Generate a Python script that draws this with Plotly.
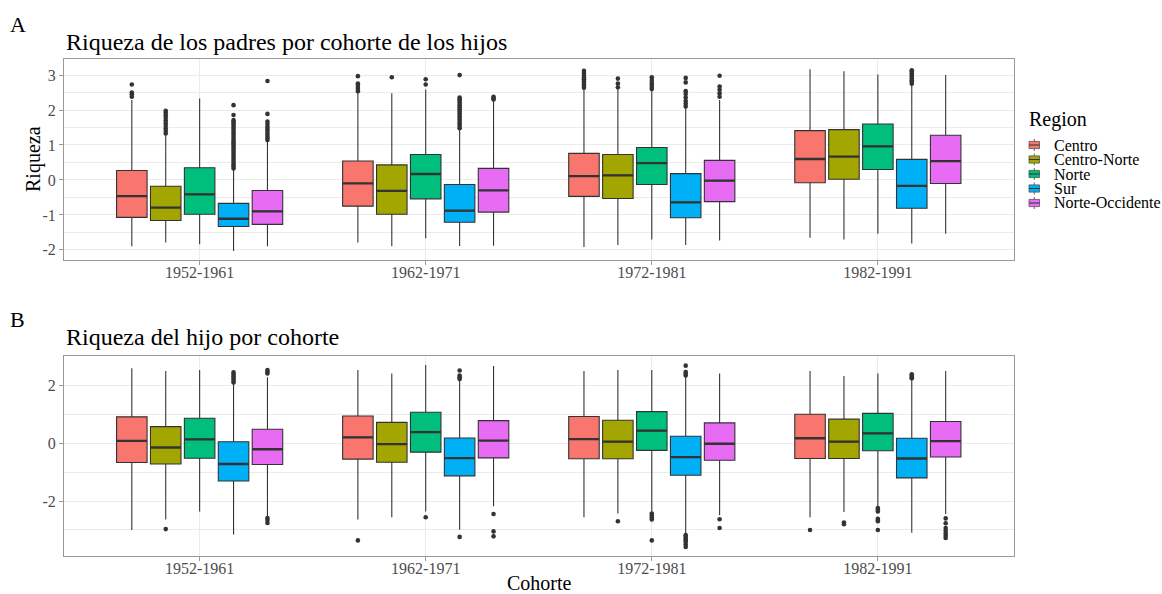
import plotly.graph_objects as go

# ---- data -------------------------------------------------------------
cohorts = ["1952-1961", "1962-1971", "1972-1981", "1982-1991"]
regions = ["Centro", "Centro-Norte", "Norte", "Sur", "Norte-Occidente"]
colors = ["#F8766D", "#A3A500", "#00BF7D", "#00B0F6", "#E76BF3"]

a_ticks = [-2, -1, 0, 1, 2, 3]
b_ticks = [-2, 0, 2]

# Panel A: parents' wealth (box statistics per region, one value per cohort)
a_lower = {
    "Centro": [-1.90, -1.79, -1.92, -1.65],
    "Centro-Norte": [-1.79, -1.90, -1.86, -1.70],
    "Norte": [-1.84, -1.67, -1.70, -1.54],
    "Sur": [-2.03, -1.89, -1.86, -1.82],
    "Norte-Occidente": [-1.90, -1.88, -1.73, -1.54],
}
a_q1 = {
    "Centro": [-1.07, -0.75, -0.47, -0.08],
    "Centro-Norte": [-1.16, -0.98, -0.53, 0.02],
    "Norte": [-0.98, -0.54, -0.13, 0.30],
    "Sur": [-1.33, -1.21, -1.08, -0.81],
    "Norte-Occidente": [-1.27, -0.92, -0.62, -0.10],
}
a_median = {
    "Centro": [-0.46, -0.10, 0.11, 0.60],
    "Centro-Norte": [-0.79, -0.31, 0.13, 0.67],
    "Norte": [-0.41, 0.17, 0.48, 0.96],
    "Sur": [-1.11, -0.88, -0.64, -0.17],
    "Norte-Occidente": [-0.90, -0.30, -0.02, 0.54],
}
a_q3 = {
    "Centro": [0.27, 0.54, 0.76, 1.41],
    "Centro-Norte": [-0.18, 0.43, 0.73, 1.44],
    "Norte": [0.35, 0.73, 0.93, 1.60],
    "Sur": [-0.67, -0.13, 0.18, 0.59],
    "Norte-Occidente": [-0.30, 0.33, 0.56, 1.28],
}
a_upper = {
    "Centro": [2.29, 2.52, 2.62, 3.17],
    "Centro-Norte": [1.29, 2.48, 2.62, 3.11],
    "Norte": [2.33, 2.59, 2.57, 3.02],
    "Sur": [0.29, 1.46, 2.07, 2.71],
    "Norte-Occidente": [1.11, 2.27, 2.29, 3.00],
}
a_outliers = {
    "Centro": [
        [2.38, 2.45, 2.50, 2.73],
        [2.54, 2.60, 2.66, 2.72, 2.76, 2.97],
        [2.64, 2.70, 2.76, 2.82, 2.88, 2.94, 3.00, 3.06, 3.12],
        [],
    ],
    "Centro-Norte": [
        [1.33, 1.40, 1.47, 1.55, 1.62, 1.70, 1.78, 1.85, 1.92, 1.98],
        [2.94],
        [2.65, 2.76, 2.90],
        [],
    ],
    "Norte": [
        [],
        [2.73, 2.88],
        [2.60, 2.66, 2.72, 2.78, 2.86, 2.94],
        [],
    ],
    "Sur": [
        [0.33, 0.39, 0.45, 0.51, 0.57, 0.63, 0.69, 0.75, 0.81, 0.87, 0.93,
         0.99, 1.05, 1.11, 1.17, 1.23, 1.29, 1.35, 1.41, 1.47, 1.53, 1.59,
         1.65, 1.71, 1.86, 2.14],
        [1.48, 1.54, 1.60, 1.66, 1.72, 1.78, 1.84, 1.90, 1.96, 2.02, 2.08,
         2.14, 2.20, 2.26, 2.31, 2.36, 3.00],
        [2.10, 2.18, 2.26, 2.36, 2.46, 2.54, 2.79, 2.92],
        [2.75, 2.80, 2.85, 2.90, 2.95, 3.00, 3.05, 3.10, 3.14],
    ],
    "Norte-Occidente": [
        [1.14, 1.20, 1.26, 1.33, 1.40, 1.46, 1.52, 1.60, 1.67, 1.89, 2.83],
        [2.30, 2.34, 2.38],
        [2.38, 2.48, 2.58, 2.67, 2.98],
        [],
    ],
}

# Panel B: children's wealth
b_lower = {
    "Centro": [-3.00, -2.64, -2.56, -2.56],
    "Centro-Norte": [-2.64, -2.56, -2.43, -2.38],
    "Norte": [-2.36, -2.36, -2.36, -2.18],
    "Sur": [-3.16, -2.99, -3.14, -3.10],
    "Norte-Occidente": [-2.56, -2.18, -2.49, -2.45],
}
b_q1 = {
    "Centro": [-0.67, -0.55, -0.54, -0.53],
    "Centro-Norte": [-0.72, -0.66, -0.54, -0.53],
    "Norte": [-0.52, -0.31, -0.25, -0.26],
    "Sur": [-1.31, -1.13, -1.11, -1.20],
    "Norte-Occidente": [-0.74, -0.51, -0.59, -0.48],
}
b_median = {
    "Centro": [0.08, 0.20, 0.14, 0.17],
    "Centro-Norte": [-0.15, -0.03, 0.05, 0.05],
    "Norte": [0.13, 0.38, 0.43, 0.34],
    "Sur": [-0.72, -0.52, -0.48, -0.53],
    "Norte-Occidente": [-0.21, 0.09, -0.02, 0.07],
}
b_q3 = {
    "Centro": [0.91, 0.94, 0.92, 1.00],
    "Centro-Norte": [0.57, 0.72, 0.79, 0.83],
    "Norte": [0.86, 1.07, 1.09, 1.03],
    "Sur": [0.05, 0.18, 0.24, 0.17],
    "Norte-Occidente": [0.48, 0.78, 0.70, 0.75],
}
b_upper = {
    "Centro": [2.59, 2.53, 2.49, 2.49],
    "Centro-Norte": [2.49, 2.41, 2.53, 2.32],
    "Norte": [2.53, 2.70, 2.53, 2.41],
    "Sur": [2.07, 2.18, 2.30, 2.22],
    "Norte-Occidente": [2.28, 2.67, 2.41, 2.49],
}
b_outliers = {
    "Centro": [[], [-3.36], [], [-3.00]],
    "Centro-Norte": [[-2.97], [], [-2.70], [-2.74, -2.80]],
    "Norte": [
        [],
        [-2.56],
        [-2.43, -2.50, -2.57, -2.64, -3.36],
        [-2.24, -2.30, -2.36, -2.61, -2.66, -2.70, -3.00],
    ],
    "Sur": [
        [2.10, 2.17, 2.24, 2.31, 2.38, 2.45],
        [2.22, 2.28, 2.34, 2.51, -3.24],
        [2.34, 2.40, 2.46, 2.68, -3.18, -3.24, -3.30, -3.36, -3.42, -3.50, -3.59],
        [2.24, 2.28, 2.33, 2.38],
    ],
    "Norte-Occidente": [
        [2.41, 2.47, 2.53, -2.59, -2.66, -2.76],
        [-2.45, -3.05, -3.22],
        [-2.63, -2.93],
        [-2.60, -2.77, -2.93, -3.03, -3.12, -3.20, -3.28],
    ],
}

# ---- geometry ---------------------------------------------------------
W, H = 1162, 594
FONT = "Liberation Serif"
DODGE = 0.75 / len(regions)          # slot width per region
BOX_W = DODGE * 0.9                  # box width after padding
EDGE = "#333333"


def px_x(p):
    return p / W


def px_y(p):
    return 1 - p / H


fig = go.Figure()

panels = [
    ("x", "y", a_lower, a_q1, a_median, a_q3, a_upper, a_outliers),
    ("x2", "y2", b_lower, b_q1, b_median, b_q3, b_upper, b_outliers),
]

for xa, ya, lo, q1, med, q3, up, outl in panels:
    for r, (reg, col) in enumerate(zip(regions, colors)):
        pos = [c + 1 + (r - (len(regions) - 1) / 2) * DODGE for c in range(len(cohorts))]
        fig.add_trace(go.Box(
            x=pos, q1=q1[reg], median=med[reg], q3=q3[reg],
            lowerfence=lo[reg], upperfence=up[reg],
            width=BOX_W, fillcolor=col, orientation="v",
            line=dict(color=EDGE, width=1.1), whiskerwidth=0,
            boxpoints=False, showlegend=False, hoverinfo="skip",
            xaxis=xa, yaxis=ya, name=reg,
        ))
        # thicker median bar
        mx, my = [], []
        for p, m in zip(pos, med[reg]):
            mx += [p - BOX_W / 2, p + BOX_W / 2, None]
            my += [m, m, None]
        fig.add_trace(go.Scatter(
            x=mx, y=my, mode="lines", line=dict(color=EDGE, width=2.3),
            showlegend=False, hoverinfo="skip", xaxis=xa, yaxis=ya,
        ))
        # outlying points
        ox, oy = [], []
        for p, vals in zip(pos, outl[reg]):
            ox += [p] * len(vals)
            oy += vals
        fig.add_trace(go.Scatter(
            x=ox, y=oy, mode="markers",
            marker=dict(color=EDGE, size=4.6, line=dict(width=0)),
            showlegend=False, hoverinfo="skip", xaxis=xa, yaxis=ya,
        ))

GRID = "#EBEBEB"
BORDER = "#9A9A9A"
TICKFONT = dict(family=FONT, size=16, color="#4D4D4D")
x_common = dict(
    range=[0.4, 4.6], tickmode="array", tickvals=[1, 2, 3, 4], ticktext=cohorts,
    showgrid=True, gridcolor=GRID, gridwidth=1, zeroline=False,
    showline=True, mirror=True, linecolor=BORDER, linewidth=1,
    ticks="outside", ticklen=4, tickcolor=BORDER, tickwidth=1,
    tickfont=TICKFONT, ticklabelstandoff=-6,
    automargin=False, domain=[px_x(64), px_x(1013.5)],
)
y_common = dict(
    showgrid=True, gridcolor=GRID, gridwidth=1, zeroline=False,
    showline=True, mirror=True, linecolor=BORDER, linewidth=1,
    ticks="outside", ticklen=4, tickcolor=BORDER, tickwidth=1,
    tickfont=TICKFONT, tickmode="array",
    automargin=False,
)

fig.update_layout(
    width=W, height=H,
    margin=dict(l=0, r=0, t=0, b=0),
    paper_bgcolor="white", plot_bgcolor="white",
    showlegend=False,
    font=dict(family=FONT, color="black"),
    xaxis=dict(**x_common, anchor="y"),
    xaxis2=dict(**x_common, anchor="y2"),
    yaxis=dict(**y_common, anchor="x", domain=[px_y(260), px_y(59)],
               range=[-2.29, 3.46], tickvals=a_ticks,
               ticktext=[str(t) for t in a_ticks],
               minor=dict(tickmode="linear", dtick=0.5, tick0=0, showgrid=True,
                          gridcolor=GRID, gridwidth=0.5, ticks="")),
    yaxis2=dict(**y_common, anchor="x2", domain=[px_y(556), px_y(355.5)],
                range=[-3.9, 3.03], tickvals=b_ticks,
                ticktext=[str(t) for t in b_ticks],
                minor=dict(tickmode="linear", dtick=1, tick0=0, showgrid=True,
                           gridcolor=GRID, gridwidth=0.5, ticks="")),
)

# ---- text -------------------------------------------------------------
def note(text, x, y, size, xanchor="left", angle=0, color="black"):
    fig.add_annotation(
        text=text, x=px_x(x), y=px_y(y), xref="paper", yref="paper",
        xanchor=xanchor, yanchor="middle", showarrow=False, textangle=angle,
        font=dict(family=FONT, size=size, color=color),
    )


note("A", 18, 25, 22, xanchor="center")
note("B", 17, 319, 22, xanchor="center")
note("Riqueza de los padres por cohorte de los hijos", 64, 42, 24)
note("Riqueza del hijo por cohorte", 64, 337, 24)
note("Riqueza", 33, 159, 20, xanchor="center", angle=-90)
note("Cohorte", 539, 583, 20, xanchor="center")

# ---- legend -----------------------------------------------------------
note("Region", 1027, 120, 20)
for i, (reg, col) in enumerate(zip(regions, colors)):
    cy = 145 + 14.5 * i
    x0, x1 = 1029, 1039.5
    xm = (x0 + x1) / 2
    fig.add_shape(type="line", xref="paper", yref="paper",
                  x0=px_x(xm), x1=px_x(xm), y0=px_y(cy - 6), y1=px_y(cy + 6),
                  line=dict(color="#666666", width=1))
    fig.add_shape(type="rect", xref="paper", yref="paper",
                  x0=px_x(x0), x1=px_x(x1), y0=px_y(cy - 3.6), y1=px_y(cy + 3.6),
                  fillcolor=col, line=dict(color="#555555", width=0.8))
    fig.add_shape(type="line", xref="paper", yref="paper",
                  x0=px_x(x0), x1=px_x(x1), y0=px_y(cy), y1=px_y(cy),
                  line=dict(color=EDGE, width=1))
    note(reg, 1052, cy, 16)

fig.write_html("out.html")
